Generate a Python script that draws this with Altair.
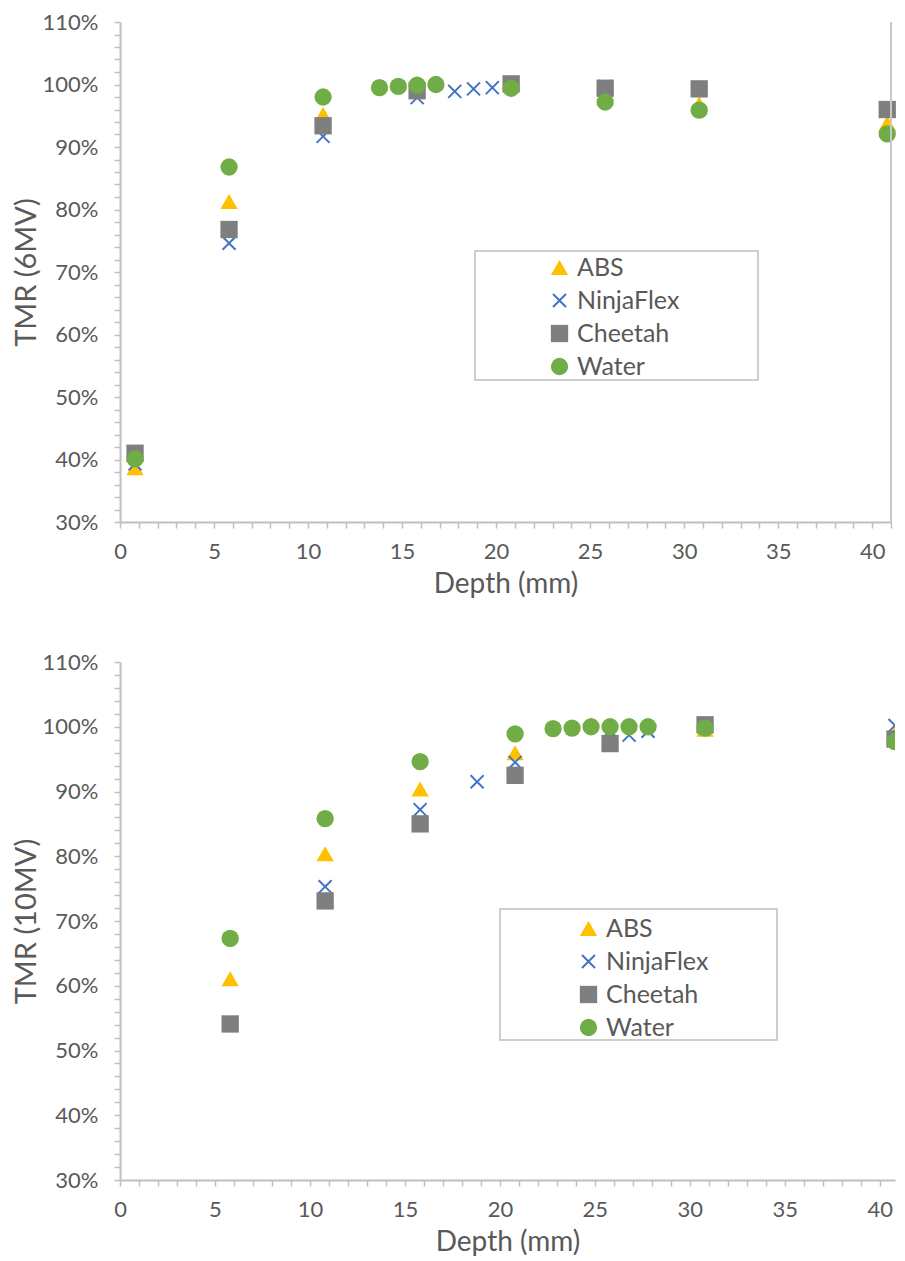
import altair as alt
import pandas as pd

series = ["ABS", "NinjaFlex", "Cheetah", "Water"]
colors = ["#FFC000", "#4472C4", "#7F7F7F", "#70AD47"]
x_path = ("M-0.67,-0.83L0,-0.16L0.67,-0.83L0.83,-0.67L0.16,0L0.83,0.67L0.67,0.83"
          "L0,0.16L-0.67,0.83L-0.83,0.67L-0.16,0L-0.83,-0.67Z")
shapes = ["triangle-up", x_path, "square", "circle"]

# ---- 6 MV (percent) ----
abs6_d = [0.8, 5.8, 10.8, 15.8, 20.8, 25.8, 30.8, 40.8]
abs6_v = [38.7, 81.3, 95.2, 99.0, 100.3, 97.8, 96.9, 93.8]
nin6_d = [0.8, 5.8, 10.8, 15.8, 17.8, 18.8, 19.8, 20.8, 25.8, 30.8, 40.8]
nin6_v = [39.3, 74.6, 91.7, 97.9, 98.9, 99.3, 99.5, 99.8, 99.7, 99.4, 96.0]
chee6_d = [0.8, 5.8, 10.8, 15.8, 20.8, 25.8, 30.8, 40.8]
chee6_v = [41.0, 76.8, 93.4, 99.0, 100.1, 99.4, 99.3, 96.0]
wat6_d = [0.8, 5.8, 10.8, 13.8, 14.8, 15.8, 16.8, 20.8, 25.8, 30.8, 40.8]
wat6_v = [40.1, 86.8, 98.0, 99.5, 99.7, 99.9, 100.0, 99.4, 97.2, 95.9, 92.1]

# ---- 10 MV (percent) ----
abs10_d = [5.8, 10.8, 15.8, 20.8, 25.8, 30.8, 40.8]
abs10_v = [61.1, 80.4, 90.4, 96.0, 97.8, 99.6, 99.0]
nin10_d = [5.8, 10.8, 15.8, 18.8, 20.8, 25.8, 26.8, 27.8, 30.8, 40.8]
nin10_v = [54.1, 75.3, 87.2, 91.5, 94.5, 99.4, 98.7, 99.3, 100.2, 100.2]
chee10_d = [5.8, 10.8, 15.8, 20.8, 25.8, 30.8, 40.8]
chee10_v = [54.1, 73.1, 85.0, 92.5, 97.4, 100.3, 98.1]
wat10_d = [5.8, 10.8, 15.8, 20.8, 22.8, 23.8, 24.8, 25.8, 26.8, 27.8, 30.8, 40.8]
wat10_v = [67.3, 85.8, 94.6, 98.9, 99.7, 99.8, 100.0, 100.0, 100.0, 100.0, 99.8, 97.7]

y_ticks = list(range(30, 111, 2))


def frame(parts):
    rows = []
    for name, d, v in parts:
        for a, b in zip(d, v):
            rows.append({"series": name, "depth": a, "tmr": b})
    return pd.DataFrame(rows)


df6 = frame([("ABS", abs6_d, abs6_v), ("NinjaFlex", nin6_d, nin6_v),
             ("Cheetah", chee6_d, chee6_v), ("Water", wat6_d, wat6_v)])
df10 = frame([("ABS", abs10_d, abs10_v), ("NinjaFlex", nin10_d, nin10_v),
              ("Cheetah", chee10_d, chee10_v), ("Water", wat10_d, wat10_v)])


def panel(df, ytitle, w, h, xmax, xvals, leg_xy, box, tpad, clip, right_rule):
    legend = alt.Legend(title=None, orient="none", legendX=leg_xy[0], legendY=leg_xy[1],
                        labelFont="Lato", labelFontSize=25, labelColor="#595959",
                        symbolSize=300, rowPadding=7, labelOffset=5, padding=0,
                        symbolStrokeWidth=0, direction="vertical")
    xscale = alt.Scale(domain=[0, xmax], nice=False, zero=False)
    yscale = alt.Scale(domain=[30, 110], nice=False, zero=False)
    pts = alt.Chart(df).mark_point(filled=True, opacity=1, size=300, strokeWidth=0, clip=clip).encode(
        x=alt.X("depth:Q", scale=xscale,
                axis=alt.Axis(title="Depth (mm)", values=xvals,
                              labelExpr="datum.value % 5 === 0 ? datum.label : ''",
                              tickSize=6, labelPadding=13, titlePadding=8,
                              labelFlush=False, labelOverlap=False)),
        y=alt.Y("tmr:Q", scale=yscale,
                axis=alt.Axis(title=ytitle, values=y_ticks,
                              labelExpr="datum.value % 10 === 0 ? datum.value + '%' : ''",
                              tickSize=6, labelPadding=16, titlePadding=tpad,
                              labelFlush=False, labelOverlap=False)),
        color=alt.Color("series:N", scale=alt.Scale(domain=series, range=colors), legend=legend),
        shape=alt.Shape("series:N", scale=alt.Scale(domain=series, range=shapes), legend=legend),
        order=alt.Order("idx:Q"),
    ).transform_calculate(
        idx="indexof(['ABS','NinjaFlex','Cheetah','Water'], datum.series)"
    )
    layers = [pts]
    bx = alt.Chart(pd.DataFrame({"k": [0]})).mark_rect(
        fill="white", stroke="#BFBFBF", strokeWidth=1.5
    ).encode(x=alt.value(box[0]), x2=alt.value(box[1]), y=alt.value(box[2]), y2=alt.value(box[3]))
    layers.append(bx)
    if right_rule:
        layers.append(alt.Chart(pd.DataFrame({"k": [0]})).mark_rule(color="#C8C8C8", strokeWidth=2).encode(
            x=alt.value(w), y=alt.value(0), y2=alt.value(h)))
    return alt.layer(*layers).properties(width=w, height=h)


top = panel(df6, "TMR (6MV)", 771, 500, 41, list(range(0, 42)),
            (427, 233), (355, 638, 229, 358), 1, False, True)
bottom = panel(df10, "TMR (10MV)", 775, 518, 40.8, list(range(0, 41)),
               (456, 254), (380, 657, 247, 378), 1, True, False)

chart = alt.vconcat(top, bottom, spacing=53).properties(
    padding={"left": 4, "top": 3, "right": 0, "bottom": 0},
    background="white",
).resolve_scale(
    color="independent", shape="independent"
).resolve_legend(
    color="independent", shape="independent"
).configure_axis(
    labelFont="Lato", titleFont="Lato", labelFontSize=22, titleFontSize=29,
    labelColor="#595959", titleColor="#595959", titleFontWeight="normal",
    domainColor="#BFBFBF", domainWidth=2, tickColor="#BFBFBF", tickWidth=1.5, grid=False
).configure_axisX(titleFontSize=28).configure_view(stroke=None)

chart.save("out.html", embed_options={"renderer": "svg", "actions": False})
